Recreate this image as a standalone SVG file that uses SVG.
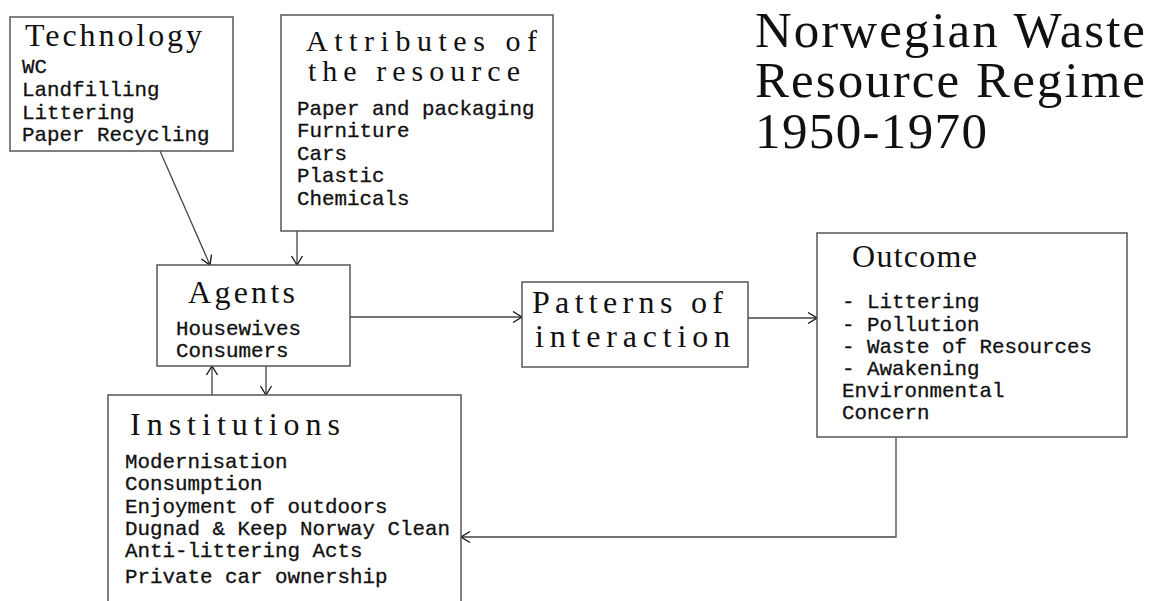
<svg xmlns="http://www.w3.org/2000/svg" width="1155" height="601" viewBox="0 0 1155 601">
  <style>
    .box { fill: #ffffff; stroke: #555555; stroke-width: 1.5; }
    .head { font-family: "Liberation Serif", "Times New Roman", serif; font-size: 32px; fill: #111111; }
    .pair { font-size: 30px; }
    .big { font-family: "Liberation Serif", "Times New Roman", serif; font-size: 51px; fill: #111111; }
    .item { font-family: "Liberation Mono", "Courier New", monospace; font-size: 20.8px; fill: #111111; stroke: #111111; stroke-width: 0.3; }
    .link { fill: none; stroke: #444444; stroke-width: 1.3; }
  </style>
  <defs>
    <marker id="open" markerUnits="userSpaceOnUse" markerWidth="14" markerHeight="14" refX="0" refY="0" viewBox="-12 -7 14 14" orient="auto">
      <path d="M-9,-5.5 L0,0 L-9,5.5" fill="none" stroke="#111111" stroke-width="1.3"/>
    </marker>
  </defs>
  <rect width="1155" height="601" fill="#ffffff"/>

  <!-- Title, three lines -->
  <g id="title">
    <text class="big">
      <tspan x="755" y="46.5" textLength="390" lengthAdjust="spacing">Norwegian Waste</tspan>
      <tspan x="755" y="97" textLength="390" lengthAdjust="spacing">Resource Regime</tspan>
      <tspan x="755" y="148" textLength="232" lengthAdjust="spacing">1950-1970</tspan>
    </text>
  </g>

  <!-- Connectors -->
  <g id="connectors">
    <line class="link" x1="160" y1="151" x2="210" y2="265" marker-end="url(#open)"/>
    <line class="link" x1="297" y1="231" x2="297" y2="265" marker-end="url(#open)"/>
    <line class="link" x1="350" y1="317" x2="522" y2="317" marker-end="url(#open)"/>
    <line class="link" x1="748" y1="318" x2="817" y2="318" marker-end="url(#open)"/>
    <line class="link" x1="266" y1="366" x2="266" y2="395" marker-end="url(#open)"/>
    <line class="link" x1="212" y1="395" x2="212" y2="366" marker-end="url(#open)"/>
    <polyline class="link" points="896,437 896,537 461,537" marker-end="url(#open)"/>
  </g>

  <!-- Technology -->
  <g id="technology">
    <rect class="box" x="10" y="17" width="223" height="134"/>
    <text class="head" x="25" y="46" textLength="177" lengthAdjust="spacing">Technology</text>
    <text class="item">
      <tspan x="22" y="73" textLength="25" lengthAdjust="spacingAndGlyphs">WC</tspan>
      <tspan x="22" y="96" textLength="137.5" lengthAdjust="spacingAndGlyphs">Landfilling</tspan>
      <tspan x="22" y="118.5" textLength="112.5" lengthAdjust="spacingAndGlyphs">Littering</tspan>
      <tspan x="22" y="141" textLength="187.5" lengthAdjust="spacingAndGlyphs">Paper Recycling</tspan>
    </text>
  </g>

  <!-- Attributes of the resource -->
  <g id="attributes">
    <rect class="box" x="281" y="15" width="272" height="216"/>
    <text class="head pair">
      <tspan x="306" y="50.5" textLength="231" lengthAdjust="spacing">Attributes of</tspan>
      <tspan x="308" y="81" textLength="212" lengthAdjust="spacing">the resource</tspan>
    </text>
    <text class="item">
      <tspan x="297" y="115" textLength="237.5" lengthAdjust="spacingAndGlyphs">Paper and packaging</tspan>
      <tspan x="297" y="137.4" textLength="112.5" lengthAdjust="spacingAndGlyphs">Furniture</tspan>
      <tspan x="297" y="159.8" textLength="50" lengthAdjust="spacingAndGlyphs">Cars</tspan>
      <tspan x="297" y="182.2" textLength="87.5" lengthAdjust="spacingAndGlyphs">Plastic</tspan>
      <tspan x="297" y="204.6" textLength="112.5" lengthAdjust="spacingAndGlyphs">Chemicals</tspan>
    </text>
  </g>

  <!-- Agents -->
  <g id="agents">
    <rect class="box" x="157" y="265" width="193" height="101"/>
    <text class="head" x="188" y="303" textLength="107" lengthAdjust="spacing">Agents</text>
    <text class="item">
      <tspan x="176" y="335" textLength="125" lengthAdjust="spacingAndGlyphs">Housewives</tspan>
      <tspan x="176" y="357" textLength="112.5" lengthAdjust="spacingAndGlyphs">Consumers</tspan>
    </text>
  </g>

  <!-- Patterns of interaction -->
  <g id="patterns">
    <rect class="box" x="522" y="282" width="226" height="85"/>
    <text class="head">
      <tspan x="532" y="313" textLength="191" lengthAdjust="spacing">Patterns of</tspan>
      <tspan x="535" y="347" textLength="195" lengthAdjust="spacing">interaction</tspan>
    </text>
  </g>

  <!-- Outcome -->
  <g id="outcome">
    <rect class="box" x="817" y="233" width="310" height="204"/>
    <text class="head" x="852" y="267" textLength="125" lengthAdjust="spacing">Outcome</text>
    <text class="item">
      <tspan x="842" y="308" textLength="137.5" lengthAdjust="spacingAndGlyphs">- Littering</tspan>
      <tspan x="842" y="330.5" textLength="137.5" lengthAdjust="spacingAndGlyphs">- Pollution</tspan>
      <tspan x="842" y="353" textLength="250" lengthAdjust="spacingAndGlyphs">- Waste of Resources</tspan>
      <tspan x="842" y="375" textLength="137.5" lengthAdjust="spacingAndGlyphs">- Awakening</tspan>
      <tspan x="842" y="397" textLength="162.5" lengthAdjust="spacingAndGlyphs">Environmental</tspan>
      <tspan x="842" y="418.5" textLength="87.5" lengthAdjust="spacingAndGlyphs">Concern</tspan>
    </text>
  </g>

  <!-- Institutions -->
  <g id="institutions">
    <rect class="box" x="108" y="395" width="353" height="220"/>
    <text class="head" x="130" y="435" textLength="210" lengthAdjust="spacing">Institutions</text>
    <text class="item">
      <tspan x="125" y="468" textLength="162.5" lengthAdjust="spacingAndGlyphs">Modernisation</tspan>
      <tspan x="125" y="490" textLength="137.5" lengthAdjust="spacingAndGlyphs">Consumption</tspan>
      <tspan x="125" y="513" textLength="262.5" lengthAdjust="spacingAndGlyphs">Enjoyment of outdoors</tspan>
      <tspan x="125" y="535" textLength="325" lengthAdjust="spacingAndGlyphs">Dugnad &amp; Keep Norway Clean</tspan>
      <tspan x="125" y="557" textLength="237.5" lengthAdjust="spacingAndGlyphs">Anti-littering Acts</tspan>
      <tspan x="125" y="583" textLength="262.5" lengthAdjust="spacingAndGlyphs">Private car ownership</tspan>
    </text>
  </g>
</svg>
